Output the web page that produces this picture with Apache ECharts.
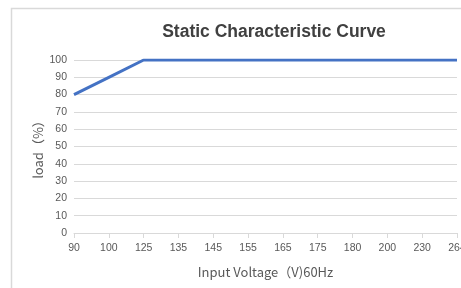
<!DOCTYPE html>
<html>
<head>
<meta charset="utf-8">
<script src="https://cdn.jsdelivr.net/npm/echarts@6/dist/echarts.min.js"></script>
<style>
  html, body { margin: 0; padding: 0; background: #fff; }
  #chart { width: 461px; height: 288px; }
</style>
</head>
<body>
<div id="chart"></div>
<script>
const voltages = ['90', '100', '125', '135', '145', '155', '165', '175', '180', '200', '230', '264'];
const loadValues = [80, 90, 100, 100, 100, 100, 100, 100, 100, 100, 100, 100];

const chart = echarts.init(document.getElementById('chart'));
const axisText = '#595959';
const gridGray = '#d9d9d9';

chart.setOption({
  animation: false,
  graphic: [
    {
      type: 'rect',
      shape: { x: 11.5, y: 8.5, width: 470, height: 300 },
      style: { fill: 'none', stroke: '#d9d9d9', lineWidth: 1.5 },
      silent: true
    }
  ],
  title: {
    text: 'Static Characteristic Curve',
    left: 269,
    top: 18,
    textAlign: 'center',
    textStyle: {
      fontFamily: 'Liberation Sans',
      fontSize: 17.5,
      fontWeight: 'bold',
      color: '#404040'
    }
  },
  grid: { left: 74, right: 4, top: 60, bottom: 55, outerBoundsMode: 'none' },
  xAxis: {
    type: 'category',
    data: voltages,
    boundaryGap: false,
    name: 'Input Voltage（V)60Hz',
    nameLocation: 'middle',
    nameGap: 33,
    nameTextStyle: { fontFamily: 'Noto Sans CJK SC', fontSize: 13, color: axisText },
    axisLine: { lineStyle: { color: gridGray } },
    axisTick: { show: true, length: 5, lineStyle: { color: gridGray }, alignWithLabel: true },
    axisLabel: { fontFamily: 'Liberation Sans', fontSize: 10.5, color: axisText, margin: 10, interval: 0, hideOverlap: false },
    splitLine: { show: false }
  },
  yAxis: {
    type: 'value',
    min: 0,
    max: 100,
    interval: 10,
    name: 'load（%）',
    nameLocation: 'middle',
    nameGap: 29,
    nameMoveOverlap: false,
    nameTextStyle: { fontFamily: 'Noto Sans CJK SC', fontSize: 13, color: axisText },
    axisLine: { show: false },
    axisTick: { show: false },
    axisLabel: { fontFamily: 'Liberation Sans', fontSize: 10.5, color: axisText, margin: 7 },
    splitLine: { lineStyle: { color: gridGray, width: 1 } }
  },
  series: [
    {
      type: 'line',
      data: loadValues,
      showSymbol: false,
      symbol: 'none',
      lineStyle: { color: '#4472C4', width: 3 }
    }
  ]
});
</script>
</body>
</html>
